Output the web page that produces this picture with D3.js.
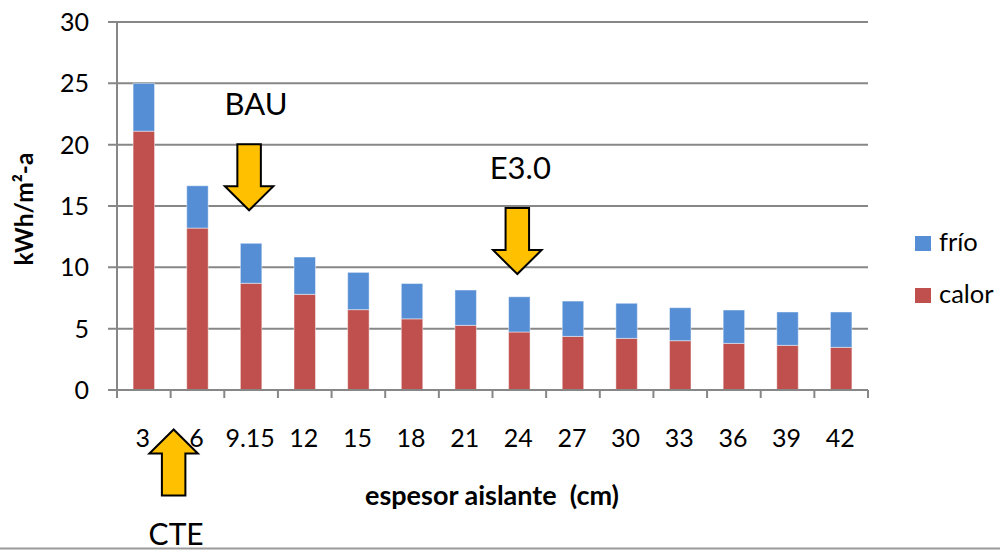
<!DOCTYPE html>
<html>
<head>
<meta charset="utf-8">
<script src="https://cdn.jsdelivr.net/npm/d3@7/dist/d3.min.js"></script>
<style>
  html, body { margin: 0; padding: 0; background: #fff; }
  svg { display: block; }
  text { font-family: Lato, "Open Sans", sans-serif; fill: #000; }
</style>
</head>
<body>
<svg id="chart" width="1000" height="552"></svg>
<script>
// Insulation thickness (cm) and annual demand split into heating/cooling (kWh/m²·a)
const thickness = ["3", "6", "9.15", "12", "15", "18", "21", "24", "27", "30", "33", "36", "39", "42"];
const calor = [21.1, 13.2, 8.7, 7.8, 6.55, 5.8, 5.27, 4.73, 4.37, 4.21, 4.02, 3.8, 3.64, 3.48];
const frio  = [3.9, 3.45, 3.26, 3.04, 3.04, 2.88, 2.88, 2.87, 2.88, 2.86, 2.69, 2.72, 2.72, 2.88];
const yTicks = [0, 5, 10, 15, 20, 25, 30];

const seriesNames = ["calor", "frío"];
const seriesColors = { "calor": "#C0504D", "frío": "#558ED5" };

const svg = d3.select("#chart");
const W = 1000, H = 552;
const plot = { left: 117, right: 868, top: 22, bottom: 390 };

const y = d3.scaleLinear().domain([0, 30]).range([plot.bottom, plot.top]);
const xBand = d3.scaleBand().domain(thickness).range([plot.left, plot.right]).paddingInner(0.6).paddingOuter(0.3);
const xSlot = d3.scaleBand().domain(thickness).range([plot.left, plot.right]).padding(0);

// gridlines (extend past the axis to form the left tick marks)
svg.append("g")
  .selectAll("line")
  .data(yTicks)
  .join("line")
  .attr("x1", plot.left - 9)
  .attr("x2", plot.right)
  .attr("y1", d => y(d))
  .attr("y2", d => y(d))
  .attr("stroke", "#878787")
  .attr("stroke-width", 2);

// y tick labels
svg.append("g")
  .selectAll("text")
  .data(yTicks)
  .join("text")
  .attr("x", 89)
  .attr("y", d => y(d))
  .attr("dy", "0.36em")
  .attr("text-anchor", "end")
  .attr("font-size", 25)
  .text(d => d);

// stacked bars
const rows = thickness.map((t, i) => ({ t, "calor": calor[i], "frío": frio[i] }));
const stack = d3.stack().keys(seriesNames)(rows);
svg.append("g")
  .selectAll("g")
  .data(stack)
  .join("g")
  .attr("fill", d => seriesColors[d.key])
  .selectAll("rect")
  .data(d => d)
  .join("rect")
  .attr("x", d => xBand(d.data.t))
  .attr("width", xBand.bandwidth())
  .attr("y", d => y(d[1]))
  .attr("height", d => y(d[0]) - y(d[1]))
  .attr("stroke", "rgba(255,255,255,0.45)")
  .attr("stroke-width", 1);

// y axis line
svg.append("line")
  .attr("x1", plot.left).attr("x2", plot.left)
  .attr("y1", plot.top).attr("y2", plot.bottom)
  .attr("stroke", "#878787").attr("stroke-width", 2);

// x axis line and category boundary ticks
svg.append("line")
  .attr("x1", plot.left).attr("x2", plot.right)
  .attr("y1", plot.bottom).attr("y2", plot.bottom)
  .attr("stroke", "#878787").attr("stroke-width", 2);
const boundaries = thickness.map(t => xSlot(t)).concat([plot.right]);
svg.append("g")
  .selectAll("line")
  .data(boundaries)
  .join("line")
  .attr("x1", d => d).attr("x2", d => d)
  .attr("y1", plot.bottom).attr("y2", plot.bottom + 8)
  .attr("stroke", "#878787").attr("stroke-width", 2);

// x tick labels
svg.append("g")
  .selectAll("text")
  .data(thickness)
  .join("text")
  .attr("x", d => xSlot(d) + xSlot.bandwidth() / 2 - 1)
  .attr("y", 447)
  .attr("text-anchor", "middle")
  .attr("font-size", 25)
  .text(d => d);

// axis titles
svg.append("text")
  .attr("x", 492)
  .attr("y", 505)
  .attr("text-anchor", "middle")
  .attr("font-size", 27)
  .attr("font-weight", "bold")
  .style("white-space", "pre")
  .text("espesor aislante  (cm)");

svg.append("text")
  .attr("transform", "translate(33,209) rotate(-90)")
  .attr("text-anchor", "middle")
  .attr("font-size", 24.5)
  .attr("font-weight", "bold")
  .text("kWh/m²-a");

// legend
const legendItems = ["frío", "calor"];
const lg = svg.append("g").selectAll("g")
  .data(legendItems)
  .join("g")
  .attr("transform", (d, i) => `translate(915,${236 + i * 52})`);
lg.append("rect")
  .attr("width", 16).attr("height", 15)
  .attr("fill", d => seriesColors[d]);
lg.append("text")
  .attr("x", 24).attr("y", 15)
  .attr("font-size", 25.5)
  .text(d => d);

// scenario markers: block arrows pointing at the relevant thickness
function arrowPath(tipX, tipY, dir) {
  const len = 66, head = 24, shaft = 23.5, wing = 48.5;
  const s = dir; // +1 pointing down, -1 pointing up
  const pts = [
    [tipX, tipY],
    [tipX - wing / 2, tipY - s * head],
    [tipX - shaft / 2, tipY - s * head],
    [tipX - shaft / 2, tipY - s * len],
    [tipX + shaft / 2, tipY - s * len],
    [tipX + shaft / 2, tipY - s * head],
    [tipX + wing / 2, tipY - s * head]
  ];
  return "M" + pts.map(p => p.join(",")).join("L") + "Z";
}

const markers = [
  { label: "BAU", at: "9.15", value: 14.65, dir: 1, dx: 7, labelDy: -95 },
  { label: "E3.0", at: "24", value: 9.45, dir: 1, dx: 3, labelDy: -95 }
];
markers.forEach(m => {
  const tx = xSlot(m.at) + xSlot.bandwidth() / 2 - 2;
  const ty = y(m.value);
  svg.append("path")
    .attr("d", arrowPath(tx, ty, m.dir))
    .attr("fill", "#FFC000")
    .attr("stroke", "#000")
    .attr("stroke-width", 2)
    .attr("stroke-linejoin", "miter");
  svg.append("text")
    .attr("x", tx + m.dx)
    .attr("y", ty + m.labelDy)
    .attr("text-anchor", "middle")
    .attr("font-family", "'Liberation Sans', Arial, sans-serif")
    .attr("font-size", 31)
    .text(m.label);
});

// CTE marker sits below the axis, between the first two categories
const cteX = xSlot("6") + 3;
svg.append("path")
  .attr("d", arrowPath(cteX, 429.5, -1))
  .attr("fill", "#FFC000")
  .attr("stroke", "#000")
  .attr("stroke-width", 2);
svg.append("text")
  .attr("x", cteX + 2.5)
  .attr("y", 545)
  .attr("text-anchor", "middle")
  .attr("font-family", "'Liberation Sans', Arial, sans-serif")
  .attr("font-size", 30)
  .text("CTE");

// frame rule along the bottom edge
svg.append("line")
  .attr("x1", 0).attr("x2", W)
  .attr("y1", 548.5).attr("y2", 548.5)
  .attr("stroke", "#9a9a9a").attr("stroke-width", 2);
</script>
</body>
</html>
